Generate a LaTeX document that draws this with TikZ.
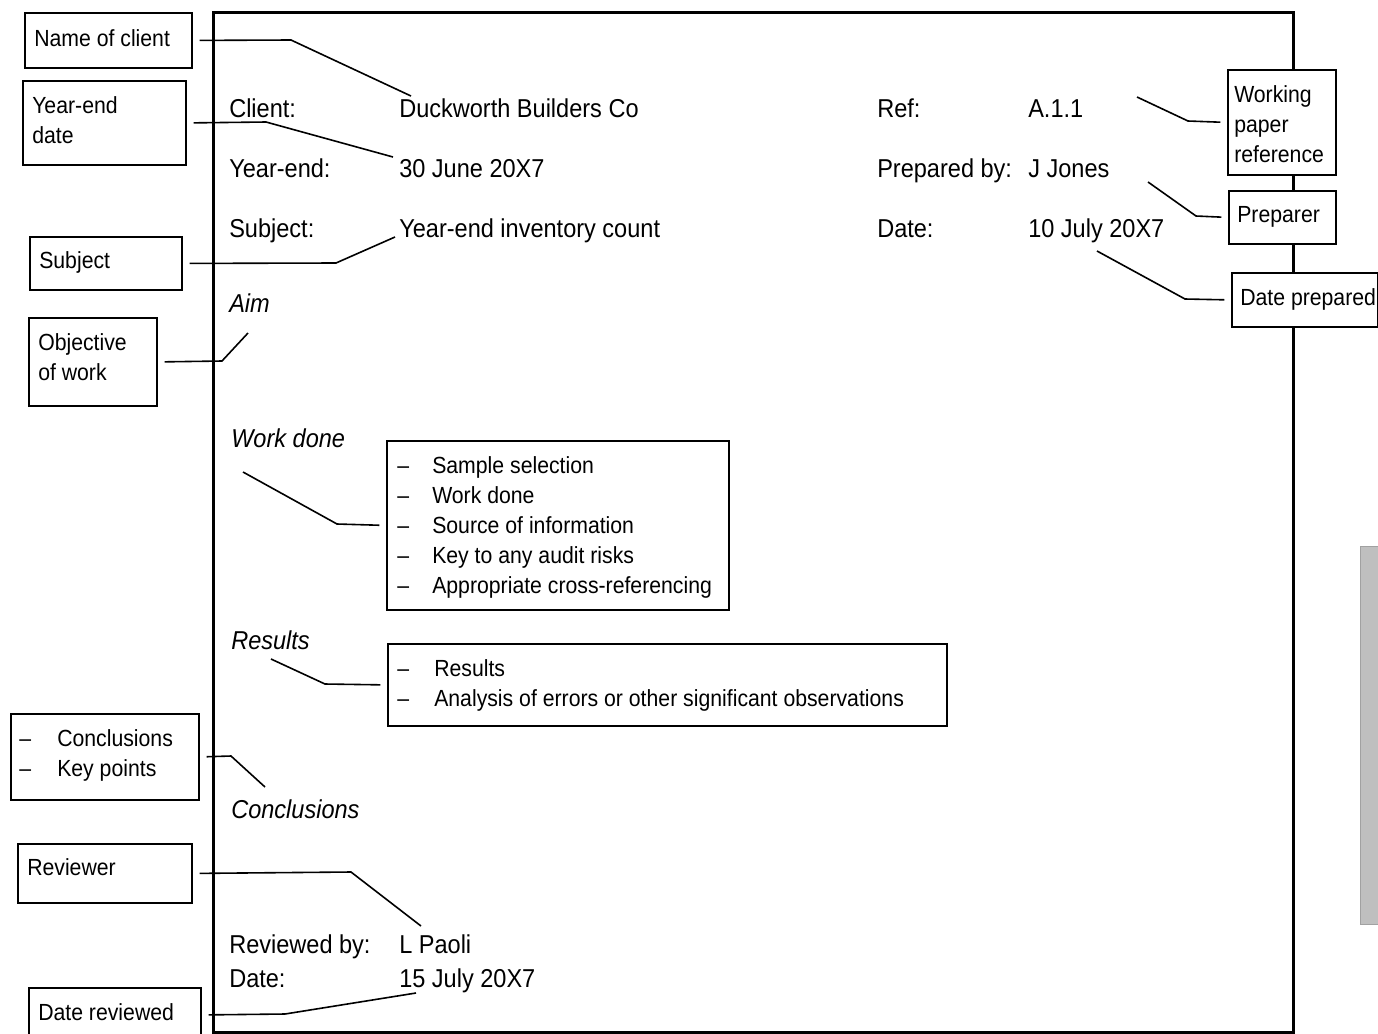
\documentclass[tikz,border=0pt]{standalone}
\usepackage{fontspec}
\setmainfont{Liberation Sans}[FakeStretch=0.91]
\newcommand\mainsz{\fontsize{19.4}{23}\selectfont}
\newcommand\smallsz{\fontsize{17.5}{22}\selectfont}
\tikzset{
 pageframe/.style={draw, line width=2pt, rectangle, inner sep=0pt, anchor=north west},
 box/.style={draw, line width=1.4pt, fill=white, rectangle, inner sep=0pt, anchor=north west},
 conn/.style={line width=1.2pt},
 cstart/.style={conn, shorten <=5pt},
 cend/.style={conn, shorten >=5pt},
 maintxt/.style={anchor=base west, inner sep=0pt, font=\mainsz},
 ittxt/.style={anchor=base west, inner sep=0pt, font=\mainsz\itshape},
 smalltxt/.style={anchor=base west, inner sep=0pt, font=\smallsz},
 greybar/.style={draw=black!37, fill=black!25, line width=0.6pt, rectangle, inner sep=0pt, anchor=north west}
}
\begin{document}
\begin{tikzpicture}[x=0.75pt, y=-0.75pt]
\useasboundingbox (0,0) rectangle (1378,1033);
% page frame
\node[pageframe, minimum width=810pt, minimum height=765pt] (page) at (212,11) {};
% grey bar
\node[greybar, minimum width=13.5pt, minimum height=283.5pt] (bar) at (1360,546) {};

% main header texts
\node[maintxt] (tclient) at (229,117) {Client:};
\node[maintxt] (vclient) at (399,117) {Duckworth Builders Co};
\node[maintxt] (tye) at (229,177) {Year-end:};
\node[maintxt] (vye) at (399,177) {30 June 20X7};
\node[maintxt] (tsubj) at (229,237) {Subject:};
\node[maintxt] (vsubj) at (399,237) {Year-end inventory count};
\node[maintxt] (tref) at (877,117) {Ref:};
\node[maintxt] (vref) at (1028,117) {A.1.1};
\node[maintxt] (tprep) at (877,177) {Prepared by:};
\node[maintxt] (vprep) at (1028,177) {J Jones};
\node[maintxt] (tdate) at (877,237) {Date:};
\node[maintxt] (vdate) at (1028,237) {10 July 20X7};
\node[ittxt] (taim) at (229,312) {Aim};
\node[ittxt] (twork) at (231,447) {Work done};
\node[ittxt] (tres) at (231,649) {Results};
\node[ittxt] (tconc) at (231,818) {Conclusions};
\node[maintxt] (trev) at (229,953) {Reviewed by:};
\node[maintxt] (vrev) at (399,953) {L Paoli};
\node[maintxt] (trdate) at (229,987) {Date:};
\node[maintxt] (vrdate) at (399,987) {15 July 20X7};

% left boxes
\node[box, minimum width=125.25pt, minimum height=41.25pt] (nameb) at (24,12) {};
\node[smalltxt] (lname) at (34,46) {Name of client};
\node[box, minimum width=122.25pt, minimum height=63pt] (yeb) at (22,80) {};
\node[smalltxt] (lye1) at (32,113) {Year-end};
\node[smalltxt] (lye2) at (32,143) {date};
\node[box, minimum width=114pt, minimum height=39.75pt] (subjb) at (29,236) {};
\node[smalltxt] (lsubj) at (39,268) {Subject};
\node[box, minimum width=96pt, minimum height=66pt] (objb) at (28,317) {};
\node[smalltxt] (lobj1) at (38,350) {Objective};
\node[smalltxt] (lobj2) at (38,380) {of work};
\node[box, minimum width=141pt, minimum height=64.5pt] (concb) at (10,713) {};
\node[smalltxt] (lcd1) at (19,746) {–};
\node[smalltxt] (lc1) at (57,746) {Conclusions};
\node[smalltxt] (lcd2) at (19,776) {–};
\node[smalltxt] (lc2) at (57,776) {Key points};
\node[box, minimum width=130.5pt, minimum height=44.25pt] (revb) at (17,843) {};
\node[smalltxt] (lrev) at (27,875) {Reviewer};
\node[box, minimum width=129pt, minimum height=40.5pt] (drevb) at (28,987) {};
\node[smalltxt] (ldrev) at (38,1020) {Date reviewed};

% right boxes
\node[box, minimum width=81pt, minimum height=78.75pt] (wprb) at (1227,69) {};
\node[smalltxt] (lw1) at (1234,102) {Working};
\node[smalltxt] (lw2) at (1234,132) {paper};
\node[smalltxt] (lw3) at (1234,162) {reference};
\node[box, minimum width=80.25pt, minimum height=39.75pt] (prepb) at (1228,190) {};
\node[smalltxt] (lprep) at (1237,222) {Preparer};
\node[box, minimum width=109.5pt, minimum height=40.5pt] (dprepb) at (1231,272) {};
\node[smalltxt] (ldprep) at (1240,305) {Date prepared};

% work done list
\node[box, minimum width=256.5pt, minimum height=126.75pt] (workb) at (386,440) {};
\foreach \yy/\tt [count=\i] in {473/Sample selection, 503/Work done, 533/Source of information, 563/Key to any audit risks, 593/Appropriate cross-referencing}{
  \node[smalltxt] (wd\i) at (397,\yy) {–};
  \node[smalltxt] (wt\i) at (432,\yy) {\tt};
}
% results list
\node[box, minimum width=419.25pt, minimum height=61.5pt] (resb) at (387,643) {};
\node[smalltxt] (rd1) at (397,676) {–};
\node[smalltxt] (rt1) at (434,676) {Results};
\node[smalltxt] (rd2) at (397,706) {–};
\node[smalltxt] (rt2) at (434,706) {Analysis of errors or other significant observations};

% connector coordinates
\coordinate (k1a) at (291,40);   \coordinate (k1b) at (411,96);
\coordinate (k2a) at (266,122);  \coordinate (k2b) at (393,157);
\coordinate (k3a) at (336,263);  \coordinate (k3b) at (395,237);
\coordinate (k4a) at (222,361);  \coordinate (k4b) at (248,333);
\coordinate (k5a) at (243,472);  \coordinate (k5b) at (337,524);
\coordinate (k6a) at (271,659);  \coordinate (k6b) at (325,684);
\coordinate (k7a) at (231,756);  \coordinate (k7b) at (265,787);
\coordinate (k8a) at (351,872);  \coordinate (k8b) at (421,926);
\coordinate (k9a) at (285,1014); \coordinate (k9b) at (416,993);
\coordinate (k10a) at (1137,97); \coordinate (k10b) at (1188,121);
\coordinate (k11a) at (1148,182); \coordinate (k11b) at (1196,216);
\coordinate (k12a) at (1097,251); \coordinate (k12b) at (1185,299);

\draw[cstart] (nameb.east) -- (k1a) -- (k1b);
\draw[cstart] (yeb.east) -- (k2a) -- (k2b);
\draw[cstart] (subjb.east) -- (k3a) -- (k3b);
\draw[cstart] (objb.east) -- (k4a) -- (k4b);
\draw[cend] (k5a) -- (k5b) -- (workb.west);
\draw[cend] (k6a) -- (k6b) -- (resb.west);
\draw[cstart] (concb.east) -- (k7a) -- (k7b);
\draw[cstart] (revb.east) -- (k8a) -- (k8b);
\draw[cstart] (drevb.east) -- (k9a) -- (k9b);
\draw[cend] (k10a) -- (k10b) -- (wprb.west);
\draw[cend] (k11a) -- (k11b) -- (prepb.west);
\draw[cend] (k12a) -- (k12b) -- (dprepb.west);
\end{tikzpicture}
\end{document}
